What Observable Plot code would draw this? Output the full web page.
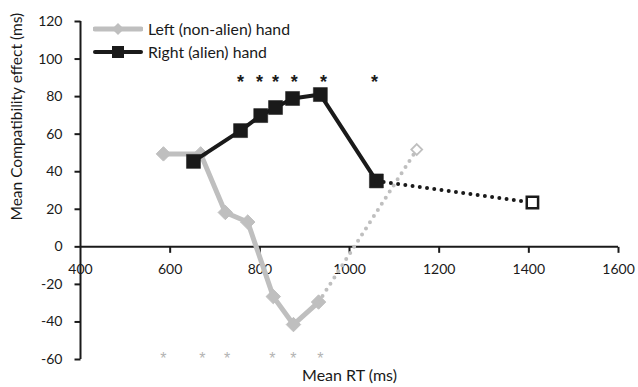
<!DOCTYPE html>
<html><head><meta charset="utf-8">
<script src="https://cdn.jsdelivr.net/npm/d3@7"></script>
<script src="https://cdn.jsdelivr.net/npm/@observablehq/plot@0.6"></script>
<style>
body{margin:0;background:#fff;}
#wrap{position:relative;width:638px;height:387px;font-family:Lato,sans-serif;}
#legend{position:absolute;left:93px;top:17px;font-size:15.8px;color:#1a1a1a;font-family:Lato,sans-serif;}
.row{display:flex;align-items:center;height:23px;}
.row svg{margin-right:5px;}
</style></head><body><div id="wrap"></div>
<script>
// ---- data ----
const seriesNames = ["Left (non-alien) hand", "Right (alien) hand"];
const leftRT = [585, 668, 723, 773, 830, 875, 931];
const leftEffect = [49.5, 49.5, 18.3, 13.2, -26.5, -41.4, -29.4];
const leftExtraRT = [1150];
const leftExtraEffect = [51.8];
const rightRT = [652, 757, 802, 835, 873, 935, 1060];
const rightEffect = [45.5, 61.9, 69.9, 74.2, 79.0, 81.1, 35.1];
const rightExtraRT = [1408];
const rightExtraEffect = [23.6];
const rightStarRT = [757, 799, 835, 877, 942, 1056];
const rightStarY = 90;
const leftStarRT = [585, 672, 727, 828, 875, 935];
const leftStarY = -58;
const xTicks = [400, 600, 800, 1000, 1200, 1400, 1600];
const yTicks = [-60, -40, -20, 0, 20, 40, 60, 80, 100, 120];

// ---- derived tables ----
const leftData = leftRT.map((x, i) => ({x, y: leftEffect[i]}));
const rightData = rightRT.map((x, i) => ({x, y: rightEffect[i]}));
const leftExtra = leftExtraRT.map((x, i) => ({x, y: leftExtraEffect[i]}));
const rightExtra = rightExtraRT.map((x, i) => ({x, y: rightExtraEffect[i]}));
const leftDotted = [leftData[leftData.length - 1], ...leftExtra];
const rightDotted = [rightData[rightData.length - 1], ...rightExtra];

const GRAY = "#bfbfbf", BLACK = "#1a1a1a";
const tickDown = {draw(ctx) { ctx.moveTo(0, 0); ctx.lineTo(0, 6); }};
const tickLeft = {draw(ctx) { ctx.moveTo(0, 0); ctx.lineTo(-6, 0); }};
const STARFONT = "Liberation Sans, Arial, sans-serif";

const chart = Plot.plot({
  width: 638, height: 387,
  marginLeft: 80, marginRight: 20, marginTop: 21, marginBottom: 28,
  x: {domain: [400, 1600], axis: null},
  y: {domain: [-60, 120], axis: null},
  style: {fontFamily: "Lato, sans-serif", fontSize: "14px", color: BLACK, background: "#fff"},
  marks: [
    // axes
    Plot.ruleY([0], {stroke: BLACK, strokeWidth: 2}),
    Plot.ruleX([400], {stroke: BLACK, strokeWidth: 2}),
    Plot.dot(xTicks.slice(1), {x: d => d, y: 0, symbol: tickDown, r: 3, stroke: BLACK, strokeWidth: 2, fill: "none"}),
    Plot.dot(yTicks, {x: 400, y: d => d, symbol: tickLeft, r: 3, stroke: BLACK, strokeWidth: 2, fill: "none"}),
    Plot.text(xTicks, {x: d => d, y: 0, dy: 23, text: d => String(d), fontSize: 14, fill: BLACK}),
    Plot.text(yTicks, {x: 400, y: d => d, dx: -18, textAnchor: "end", text: d => String(d), fontSize: 14, fill: BLACK}),
    Plot.text(["Mean RT (ms)"], {frameAnchor: "bottom", dy: 21, text: d => d, fontSize: 16, fill: BLACK}),
    Plot.text(["Mean Compatibility effect (ms)"], {frameAnchor: "left", dx: -63, dy: 30, rotate: -90, text: d => d, fontSize: 15.5, fill: BLACK}),
    // left hand
    Plot.line(leftData, {x: "x", y: "y", stroke: GRAY, strokeWidth: 5}),
    Plot.dot(leftData, {x: "x", y: "y", symbol: "diamond2", r: 6.5, fill: GRAY, stroke: GRAY, strokeWidth: 1}),
    Plot.line(leftDotted, {x: "x", y: "y", stroke: GRAY, strokeWidth: 4, strokeDasharray: "0,7.3", strokeLinecap: "round"}),
    Plot.dot(leftExtra, {x: "x", y: "y", symbol: "diamond2", r: 4.9, fill: "#fff", stroke: GRAY, strokeWidth: 1.8}),
    // right hand
    Plot.line(rightData, {x: "x", y: "y", stroke: BLACK, strokeWidth: 4}),
    Plot.dot(rightData, {x: "x", y: "y", symbol: "square", r: 7.9, fill: BLACK, stroke: BLACK, strokeWidth: 0.5}),
    Plot.line(rightDotted, {x: "x", y: "y", stroke: BLACK, strokeWidth: 4, strokeDasharray: "0,7.3", strokeLinecap: "round"}),
    Plot.dot(rightExtra, {x: "x", y: "y", symbol: "square", r: 6.4, fill: "#fff", stroke: BLACK, strokeWidth: 2.5}),
    // significance asterisks
    Plot.text(rightStarRT, {x: d => d, y: rightStarY, dy: 4, text: () => "*", fontSize: 18, fontWeight: "bold", fontFamily: STARFONT, fill: BLACK}),
    Plot.text(leftStarRT, {x: d => d, y: leftStarY, dy: 3, text: () => "*", fontSize: 16, fontFamily: STARFONT, fill: "#b3b3b3"})
  ]
});

const wrap = document.getElementById("wrap");
wrap.appendChild(chart);

// legend (inside plot area, like the Excel original)
const legend = document.createElement("div");
legend.id = "legend";
legend.innerHTML = `
<div class="row"><svg width="50" height="14"><line x1="2" y1="7" x2="48" y2="7" stroke="${GRAY}" stroke-width="5" stroke-linecap="round"/><path d="M25,1 L31,7 L25,13 L19,7Z" fill="${GRAY}"/></svg><span>${seriesNames[0]}</span></div>
<div class="row"><svg width="50" height="14"><line x1="2" y1="7" x2="48" y2="7" stroke="${BLACK}" stroke-width="4" stroke-linecap="round"/><rect x="19" y="1" width="12" height="12" fill="${BLACK}"/></svg><span>${seriesNames[1]}</span></div>`;
wrap.appendChild(legend);
</script></body></html>
